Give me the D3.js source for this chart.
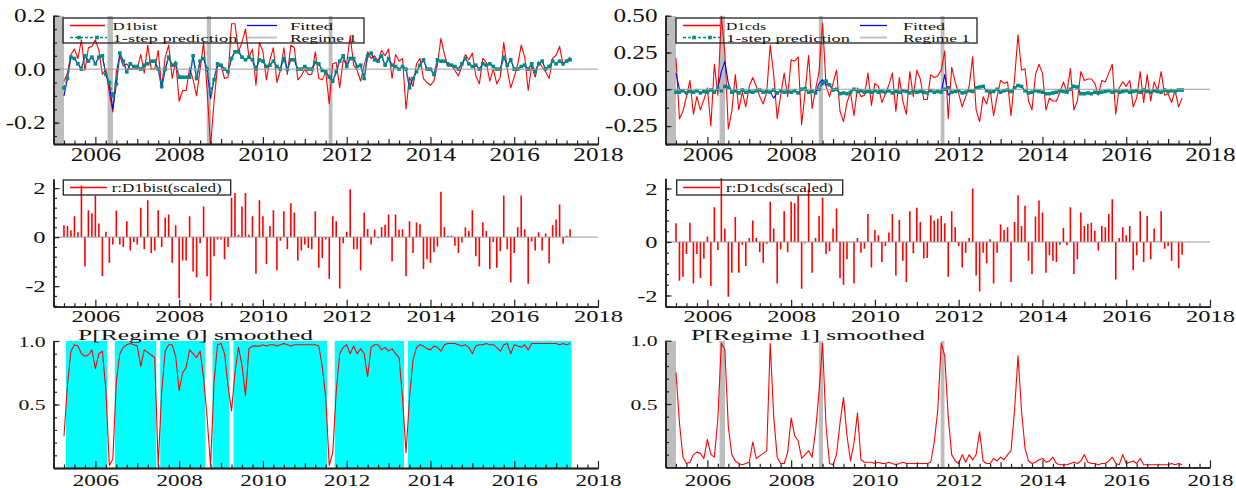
<!DOCTYPE html>
<html><head><meta charset="utf-8">
<script src="https://cdn.jsdelivr.net/npm/d3@7"></script>
<style>html,body{margin:0;padding:0;background:#fff;} svg{display:block;}</style>
</head><body>
<svg id="c" width="1236" height="488"></svg>
<script>
// ---------------- DATA (monthly, April 2005 .. May 2017) ----------------
const startYear = 2005.25;
const xTickLabels = [2006, 2008, 2010, 2012, 2014, 2016, 2018];

const d1bist = [
 -0.045,-0.015,0.055,0.075,0.04,0.11,-0.005,0.08,0.085,0.11,0.07,-0.02,
 0.0,-0.09,-0.16,-0.01,0.05,0.012,0.02,0.0,0.0,0.0,0.055,-0.015,
 0.09,0.0,0.0,0.07,-0.07,0.045,0.09,-0.035,0.03,-0.12,-0.08,-0.08,
 0.005,-0.04,-0.1,0.0,0.1,-0.075,-0.29,-0.12,0.01,0.012,-0.035,-0.03,
 0.17,0.17,0.065,0.1,0.15,0.045,0.075,-0.06,0.1,0.065,-0.04,0.035,
 0.08,-0.05,-0.005,0.08,-0.02,0.09,0.08,-0.04,-0.025,0.0,-0.02,-0.02,
 0.065,-0.035,-0.04,-0.01,-0.13,0.02,0.025,-0.07,0.035,0.02,0.125,0.015,
 -0.005,-0.045,0.015,0.065,0.04,0.05,0.03,0.07,0.05,0.075,-0.035,0.055,
 0.03,0.04,-0.15,-0.03,-0.065,0.02,0.04,-0.035,-0.05,-0.06,-0.045,0.018,
 0.115,0.055,0.01,0.015,-0.005,-0.025,0.01,0.055,0.035,0.06,-0.025,-0.055,
 0.04,0.025,-0.045,0.0,-0.055,-0.03,0.1,0.0,-0.07,-0.03,0.018,0.09,
 0.045,-0.08,0.012,-0.03,0.028,0.008,-0.01,-0.035,0.04,0.052,0.085,0.015,
 0.032,0.045];

const fitted1 = [
 -0.1,-0.035,0.045,0.04,0.02,0.0,0.05,0.03,0.045,0.02,0.045,0.05,
 -0.02,-0.06,-0.15,-0.055,0.06,0.03,-0.01,0.02,0.01,0.01,0.0,0.015,
 0.02,0.03,0.03,0.0,-0.07,0.0,0.045,0.015,0.02,-0.03,-0.03,-0.03,
 -0.03,0.05,-0.035,0.03,0.04,0.0,-0.11,-0.04,0.02,0.015,0.0,-0.01,
 0.04,0.065,0.065,0.045,0.035,0.045,0.035,0.0,0.035,0.03,0.01,0.015,
 0.03,0.01,0.0,0.04,0.0,0.035,0.035,0.0,0.0,0.01,0.0,0.0,
 0.025,0.02,-0.005,-0.01,-0.03,-0.045,-0.01,0.03,0.05,0.01,0.04,0.04,
 0.01,0.015,-0.035,0.05,0.06,0.035,0.03,0.05,0.015,0.04,0.015,0.01,
 0.0,0.01,0.0,-0.065,-0.035,-0.01,0.015,0.035,0.0,0.0,-0.02,0.035,
 0.03,0.03,0.02,0.015,0.01,0.0,0.02,0.04,0.02,0.01,0.015,0.0,
 0.02,0.015,0.02,0.01,0.0,0.0,0.045,0.015,0.035,0.0,0.0,0.01,
 0.015,0.0,0.02,-0.01,0.02,0.03,0.0,0.01,0.03,0.02,0.03,0.02,
 0.03,0.035];

const pred1 = [
 -0.07,-0.035,0.045,0.04,0.02,0.0,0.05,0.03,0.045,0.02,0.045,0.05,
 -0.02,-0.05,-0.1,-0.055,0.06,0.03,-0.01,0.02,0.01,0.01,0.0,0.015,
 0.02,0.03,0.03,0.0,-0.065,0.0,0.045,0.015,0.02,-0.03,-0.03,-0.03,
 -0.03,0.05,-0.035,0.03,0.04,0.0,-0.09,-0.04,0.02,0.015,0.0,-0.01,
 0.04,0.065,0.065,0.045,0.035,0.045,0.035,0.0,0.035,0.03,0.01,0.015,
 0.03,0.01,0.0,0.04,0.0,0.035,0.035,0.0,0.0,0.01,0.0,0.0,
 0.025,0.02,-0.005,-0.01,-0.03,-0.045,-0.01,0.03,0.05,0.01,0.04,0.04,
 0.01,0.015,-0.035,0.05,0.06,0.035,0.03,0.05,0.015,0.04,0.015,0.01,
 0.0,0.01,0.0,-0.07,-0.035,-0.01,0.015,0.035,0.0,0.0,-0.02,0.035,
 0.03,0.03,0.02,0.015,0.01,0.0,0.02,0.04,0.02,0.01,0.015,0.0,
 0.02,0.015,0.02,0.01,0.0,0.0,0.045,0.015,0.035,0.0,0.0,0.01,
 0.015,0.0,0.02,-0.01,0.02,0.03,0.0,0.01,0.03,0.02,0.03,0.02,
 0.03,0.035];

const resid1 = [
 0.48,0.45,0.28,0.85,0.2,2.1,-1.2,1.1,0.97,1.7,0.55,-1.6,
 0.22,-1.05,-0.3,1.08,-0.3,-0.4,0.65,-0.55,-0.2,-0.3,1.2,-0.5,
 1.5,-0.65,-0.55,1.1,-0.4,0.8,0.92,-1.05,0.48,-2.5,-0.95,-0.95,
 0.85,-1.4,-1.65,-0.25,1.25,-1.6,-2.6,-0.78,-0.1,-0.1,-0.9,-0.4,
 1.6,1.8,0.1,1.25,1.8,0.1,0.85,-1.5,1.5,0.85,-1.1,0.45,
 1.1,-1.35,-0.15,1.05,-0.5,1.38,1.0,-0.95,-0.55,-0.3,-0.45,-0.5,
 1.05,-1.25,-0.85,-0.1,-1.7,0.85,0.65,-2.1,-0.25,0.22,1.95,-0.5,
 -0.5,-1.35,1.0,0.33,-0.3,0.3,-0.05,0.4,0.5,0.92,-1.0,0.92,
 0.3,0.32,-1.6,0.65,-0.65,0.6,0.52,-1.3,-0.9,-1.05,-0.62,-0.38,
 1.85,0.4,0.05,0.05,-0.35,-0.65,-0.22,0.4,0.25,1.1,-0.78,-1.2,
 0.6,0.25,-1.3,-0.2,-1.25,-0.58,1.7,-0.5,-1.85,-0.65,0.4,1.7,
 0.32,-1.9,-0.18,-0.55,0.2,-0.55,0.15,-1.07,0.48,0.72,1.33,-0.27,
 0.05,0.32];

const d1cds = [
 0.21,-0.2,-0.15,-0.05,0.06,-0.17,-0.05,-0.14,-0.07,0.01,-0.25,0.17,
 -0.04,0.5,0.25,-0.27,-0.15,0.1,-0.14,-0.02,-0.12,0.02,0.08,0.02,
 -0.05,-0.1,-0.02,0.3,0.1,-0.2,-0.04,0.11,-0.05,0.2,0.19,0.22,
 -0.24,-0.02,0.23,-0.13,0.0,0.12,0.45,0.02,-0.05,0.04,0.13,-0.15,
 -0.22,-0.09,-0.02,-0.18,0.01,-0.05,-0.04,0.11,-0.11,0.04,0.02,-0.09,
 -0.03,0.03,0.11,-0.15,0.08,-0.08,-0.17,0.12,-0.05,0.13,0.07,-0.07,
 -0.07,0.1,0.08,0.09,0.13,0.26,-0.2,0.15,0.05,-0.03,-0.12,-0.05,
 0.02,0.22,-0.14,-0.22,-0.05,-0.1,0.0,-0.18,-0.05,0.06,0.04,0.05,
 -0.18,0.07,0.37,0.13,0.14,-0.08,-0.14,0.1,0.17,0.11,-0.14,-0.06,
 -0.08,-0.08,-0.02,0.05,-0.02,0.14,-0.14,-0.08,0.12,0.06,0.07,0.07,
 0.04,-0.04,0.06,0.05,0.11,0.17,-0.17,0.01,0.05,0.02,0.06,-0.12,
 -0.06,0.12,-0.09,0.1,-0.08,0.05,-0.01,0.12,-0.04,-0.03,-0.09,-0.01,
 -0.12,-0.06];

const fitted2 = [
 0.11,0.0,-0.01,-0.025,-0.015,-0.02,-0.01,-0.025,-0.015,-0.02,-0.005,-0.02,
 0.005,0.12,0.19,0.04,-0.02,-0.01,-0.025,-0.005,-0.02,-0.015,-0.02,-0.01,
 -0.005,-0.02,-0.015,-0.02,-0.06,-0.025,-0.01,-0.02,-0.015,-0.02,-0.01,-0.025,
 0.0,0.005,-0.02,-0.015,-0.025,0.04,0.065,0.03,0.03,-0.005,0.0,-0.03,
 -0.025,-0.03,-0.02,0.0,-0.015,-0.01,-0.02,-0.015,-0.02,-0.01,-0.02,-0.015,
 -0.02,-0.01,-0.025,-0.015,-0.02,-0.01,-0.015,-0.025,-0.01,-0.02,-0.015,-0.02,
 -0.025,-0.01,-0.02,-0.015,-0.02,0.1,-0.04,-0.02,-0.015,-0.01,-0.025,-0.02,
 -0.01,-0.015,0.01,0.015,0.02,-0.01,-0.02,-0.015,0.0,-0.02,-0.01,-0.005,
 -0.015,0.01,0.03,0.02,-0.01,-0.025,-0.02,-0.01,-0.015,-0.02,-0.03,-0.03,
 -0.025,-0.02,-0.01,-0.015,-0.02,0.0,0.02,0.015,-0.03,-0.03,-0.025,-0.03,
 -0.02,-0.025,-0.02,-0.015,-0.01,-0.02,-0.01,-0.02,-0.015,-0.01,-0.02,-0.015,
 -0.01,-0.02,-0.005,-0.015,-0.02,-0.01,-0.015,-0.02,-0.005,-0.015,-0.01,-0.015,
 -0.005,-0.005];

const pred2 = [
 -0.02,-0.02,-0.01,-0.025,-0.015,-0.02,-0.01,-0.025,-0.015,-0.02,-0.005,-0.02,
 0.005,-0.01,0.02,0.015,-0.02,-0.01,-0.025,-0.005,-0.02,-0.015,-0.02,-0.01,
 -0.005,-0.02,-0.015,-0.02,-0.005,-0.025,-0.01,-0.02,-0.015,-0.02,-0.01,-0.025,
 0.0,0.005,-0.02,-0.015,-0.025,0.0,0.04,0.055,0.03,-0.005,0.0,-0.03,
 -0.025,-0.03,-0.02,0.0,-0.015,-0.01,-0.02,-0.015,-0.02,-0.01,-0.02,-0.015,
 -0.02,-0.01,-0.025,-0.015,-0.02,-0.01,-0.015,-0.025,-0.01,-0.02,-0.015,-0.02,
 -0.025,-0.01,-0.02,-0.015,-0.02,0.0,0.01,-0.02,-0.015,-0.01,-0.025,-0.02,
 -0.01,-0.015,0.01,0.015,0.02,-0.01,-0.02,-0.015,0.0,-0.02,-0.01,-0.005,
 -0.015,0.01,0.025,0.02,-0.01,-0.025,-0.02,-0.01,-0.015,-0.02,-0.03,-0.03,
 -0.025,-0.02,-0.01,-0.015,-0.02,0.0,0.02,0.015,-0.03,-0.03,-0.025,-0.03,
 -0.02,-0.025,-0.02,-0.015,-0.01,-0.02,-0.01,-0.02,-0.015,-0.01,-0.02,-0.015,
 -0.01,-0.02,-0.005,-0.015,-0.02,-0.01,-0.015,-0.02,-0.005,-0.015,-0.01,-0.015,
 -0.005,-0.005];

const resid2 = [
 0.7,-1.45,-1.3,-0.45,0.72,-1.55,-0.45,-1.35,-0.62,0.2,-1.65,1.3,
 -0.3,2.4,0.5,-2.05,-1.15,0.93,-1.15,-0.1,-0.9,0.15,0.8,0.15,
 -0.38,-0.78,-0.07,1.5,0.5,-1.55,-0.28,1.15,-0.38,1.5,1.45,1.75,
 -1.75,-0.05,1.95,-1.15,0.15,0.97,1.65,-0.45,-0.35,0.5,1.25,-1.35,
 -1.6,-0.65,-0.02,-1.55,0.15,-0.4,-0.25,1.05,-0.95,0.45,0.25,-0.75,
 -0.15,0.35,1.05,-1.25,0.82,-0.7,-1.5,1.15,-0.42,1.28,0.75,-0.62,
 -0.6,1.0,0.8,0.87,0.97,0.7,-1.3,1.15,0.55,-0.15,-0.95,-0.4,
 0.15,2.0,-1.25,-1.85,-0.4,-0.8,0.1,-1.55,-0.4,0.65,0.45,0.55,
 -1.5,0.75,1.75,0.6,1.35,-0.7,-1.2,0.95,1.55,1.1,-1.15,-0.5,
 -0.7,-0.75,-0.1,0.52,-0.12,1.3,-1.2,-0.65,1.1,0.6,0.68,0.72,
 0.42,-0.32,0.6,0.55,1.05,1.6,-1.4,0.15,0.55,0.25,0.6,-1.05,
 -0.5,1.15,-0.75,0.97,-0.65,0.5,0.02,1.15,-0.25,-0.15,-0.7,0.0,
 -0.98,-0.48];

const pRegime0 = [
 0.25,0.65,0.92,0.97,0.96,0.9,0.88,0.89,0.93,0.78,0.9,0.92,
 0.62,0.02,0.07,0.68,0.9,0.95,0.97,0.98,0.97,0.96,0.8,0.93,
 0.91,0.89,0.87,0.02,0.6,0.92,0.97,0.97,0.88,0.61,0.75,0.79,
 0.93,0.9,0.87,0.92,0.71,0.4,0.02,0.68,0.97,0.98,0.9,0.65,
 0.45,0.75,0.95,0.81,0.57,0.94,0.96,0.96,0.96,0.97,0.96,0.97,
 0.97,0.96,0.97,0.98,0.97,0.96,0.97,0.97,0.97,0.97,0.97,0.97,
 0.97,0.96,0.8,0.55,0.02,0.12,0.6,0.9,0.95,0.97,0.9,0.96,
 0.9,0.94,0.9,0.72,0.95,0.97,0.97,0.93,0.95,0.92,0.94,0.9,
 0.87,0.55,0.12,0.55,0.85,0.95,0.97,0.96,0.94,0.93,0.96,0.95,
 0.92,0.97,0.98,0.98,0.98,0.97,0.96,0.97,0.95,0.9,0.96,0.97,
 0.97,0.98,0.97,0.97,0.95,0.92,0.97,0.98,0.9,0.97,0.96,0.95,
 0.97,0.93,0.98,0.98,0.98,0.98,0.98,0.98,0.98,0.98,0.97,0.98,
 0.97,0.98];

const pRegime1 = [
 0.75,0.35,0.08,0.03,0.04,0.1,0.12,0.11,0.07,0.22,0.1,0.08,
 0.38,0.98,0.93,0.32,0.1,0.05,0.03,0.02,0.03,0.04,0.2,0.07,
 0.09,0.11,0.13,0.98,0.4,0.08,0.03,0.03,0.12,0.39,0.25,0.21,
 0.07,0.1,0.13,0.08,0.29,0.6,0.98,0.32,0.03,0.02,0.1,0.35,
 0.55,0.25,0.05,0.19,0.43,0.06,0.04,0.04,0.04,0.03,0.04,0.03,
 0.03,0.04,0.03,0.02,0.03,0.04,0.03,0.03,0.03,0.03,0.03,0.03,
 0.03,0.04,0.2,0.45,0.98,0.88,0.4,0.1,0.05,0.03,0.1,0.04,
 0.1,0.06,0.1,0.28,0.05,0.03,0.03,0.07,0.05,0.08,0.06,0.1,
 0.13,0.45,0.88,0.45,0.15,0.05,0.03,0.04,0.06,0.07,0.04,0.05,
 0.08,0.03,0.02,0.02,0.02,0.03,0.04,0.03,0.05,0.1,0.04,0.03,
 0.03,0.02,0.03,0.03,0.05,0.08,0.03,0.02,0.1,0.03,0.04,0.05,
 0.03,0.07,0.02,0.02,0.02,0.02,0.02,0.02,0.02,0.02,0.03,0.02,
 0.03,0.02];

// regime-1 bands (years) and regime-0 classified blocks (observation indices)
const regime1Bands = [[2005.0, 2005.25], [2006.29, 2006.42], [2008.66, 2008.76], [2011.57, 2011.66]];
const regime0Blocks = [[1, 12], [15, 26], [28, 40], [43, 47], [49, 75], [78, 97], [99, 145]];

// ---------------- DRAWING ----------------
const N = d1bist.length;
const dates = d3.range(N).map(i => startYear + i / 12);
const FONT = '"Liberation Serif","Times New Roman",serif';
const SX = 1.4;
const svg = d3.select('#c');
const RED = '#ff0000', BLUE = '#0000ff', TEAL = '#008b80', GRAYBAR = '#bdbdbd', CYAN = '#00ffff', AXIS = '#222';

function makePanel(o) {
  const x = d3.scaleLinear().domain([2005, 2018]).range([o.x0, o.x1]);
  const y = d3.scaleLinear().domain(o.yDom).range([o.yBot, o.yTop]);
  const cid = 'clip' + o.id;
  svg.append('clipPath').attr('id', cid).append('rect')
    .attr('x', o.x0).attr('y', o.yTop).attr('width', o.x1 - o.x0).attr('height', o.yBot - o.yTop);
  const g = svg.append('g');
  const plot = g.append('g').attr('clip-path', `url(#${cid})`);
  return { o, x, y, g, plot };
}

function styleAxis(sel) {
  sel.selectAll('path.domain').attr('stroke', AXIS).attr('stroke-width', 1.6);
  sel.selectAll('line').attr('stroke', AXIS).attr('stroke-width', 1.2);
}

function drawAxes(p) {
  const { o, x, y, g } = p;
  const quarters = d3.range(2005, 2018.001, 0.25).filter(v => Math.abs(v - Math.round(v)) > 0.01);
  const years = d3.range(2005, 2019);
  const gq = g.append('g').attr('transform', `translate(0,${o.yBot})`)
    .call(d3.axisBottom(x).tickValues(quarters).tickSize(-3.5).tickSizeOuter(0).tickFormat(''));
  styleAxis(gq);
  const gy = g.append('g').attr('transform', `translate(0,${o.yBot})`)
    .call(d3.axisBottom(x).tickValues(years.filter(v => !xTickLabels.includes(v))).tickSize(-5).tickSizeOuter(0).tickFormat(''));
  styleAxis(gy);
  const gl = g.append('g').attr('transform', `translate(0,${o.yBot})`)
    .call(d3.axisBottom(x).tickValues(xTickLabels).tickSize(-7).tickSizeOuter(0).tickFormat(d3.format('d')));
  styleAxis(gl);
  gl.selectAll('text').attr('y', o.xLab - o.yBot).attr('dy', 0)
    .attr('font-family', FONT).attr('font-size', o.fsX).attr('fill', '#111')
    .attr('transform', `scale(${SX},1)`);

  const gym = g.append('g').attr('transform', `translate(${o.x0},0)`)
    .call(d3.axisLeft(y).tickValues(o.yMinor).tickSize(-3.5).tickSizeOuter(0).tickFormat(''));
  styleAxis(gym);
  const gyl = g.append('g').attr('transform', `translate(${o.x0},0)`)
    .call(d3.axisLeft(y).tickValues(o.yMajor).tickSize(-6).tickSizeOuter(0).tickFormat(o.fmt));
  styleAxis(gyl);
  gyl.selectAll('text').attr('x', -8 / SX).attr('dy', 0).attr('y', 0.33 * o.fsY)
    .attr('font-family', FONT).attr('font-size', o.fsY).attr('fill', '#111')
    .attr('text-anchor', 'end').attr('transform', `scale(${SX},1)`);
}

function bands(p, list, color) {
  p.plot.selectAll(null).data(list).enter().append('rect')
    .attr('x', d => p.x(d[0])).attr('width', d => p.x(d[1]) - p.x(d[0]))
    .attr('y', p.o.yTop).attr('height', p.o.yBot - p.o.yTop).attr('fill', color);
}
function zeroLine(p) {
  p.g.append('line').attr('x1', p.o.x0).attr('x2', p.o.x1).attr('y1', p.y(0)).attr('y2', p.y(0))
    .attr('stroke', '#9a9a9a').attr('stroke-width', 1);
}
function series(p, vals, color, width, dash) {
  const line = d3.line().x((d, i) => p.x(dates[i])).y(d => p.y(d));
  p.plot.append('path').datum(vals).attr('d', line).attr('fill', 'none')
    .attr('stroke', color).attr('stroke-width', width).attr('stroke-dasharray', dash || null)
    .attr('stroke-linejoin', 'round');
}
function markers(p, vals, color) {
  p.plot.selectAll(null).data(vals).enter().append('rect')
    .attr('x', (d, i) => p.x(dates[i]) - 1.8).attr('y', d => p.y(d) - 1.8)
    .attr('width', 3.6).attr('height', 3.6).attr('fill', color);
}
function spikes(p, vals) {
  p.plot.selectAll(null).data(vals).enter().append('line')
    .attr('x1', (d, i) => p.x(dates[i])).attr('x2', (d, i) => p.x(dates[i]))
    .attr('y1', p.y(0)).attr('y2', d => p.y(d))
    .attr('stroke', RED).attr('stroke-width', 1.6);
}
function legBox(x0, y0, x1, y1) {
  svg.append('rect').attr('x', x0).attr('y', y0).attr('width', x1 - x0).attr('height', y1 - y0)
    .attr('fill', 'none').attr('stroke', AXIS).attr('stroke-width', 1.3);
}
function legLine(x0, x1, y, color, w, dash) {
  svg.append('line').attr('x1', x0).attr('x2', x1).attr('y1', y).attr('y2', y)
    .attr('stroke', color).attr('stroke-width', w).attr('stroke-dasharray', dash || null);
}
function legMark(x, y) {
  svg.append('rect').attr('x', x - 1.8).attr('y', y - 1.8).attr('width', 3.6).attr('height', 3.6).attr('fill', TEAL);
}
function txt(x, y, s, len, fs) {
  svg.append('text').attr('x', x).attr('y', y).attr('font-family', FONT).attr('font-size', fs)
    .attr('fill', '#111').attr('textLength', len).attr('lengthAdjust', 'spacingAndGlyphs').text(s);
}

const f1 = v => v.toFixed(1), f2 = v => v.toFixed(2), f0 = v => String(v);

// ---- top-left
const TL = makePanel({ id: 'tl', x0: 53.5, x1: 598, yTop: 15.7, yBot: 144, yDom: [-0.28, 0.2],
  yMajor: [-0.2, 0, 0.2], yMinor: d3.range(-0.25, 0.2001, 0.05), fmt: f1, xLab: 161, fsX: 18, fsY: 18 });
bands(TL, regime1Bands, GRAYBAR);
zeroLine(TL);
series(TL, d1bist, RED, 1.1);
series(TL, fitted1, BLUE, 1.1);
series(TL, pred1, TEAL, 1.6, '3,2');
markers(TL, pred1, TEAL);
drawAxes(TL);

// ---- top-right
const TR = makePanel({ id: 'tr', x0: 665.5, x1: 1210, yTop: 15.7, yBot: 144, yDom: [-0.372, 0.5],
  yMajor: [-0.25, 0, 0.25, 0.5], yMinor: d3.range(-0.375, 0.5001, 0.125), fmt: f2, xLab: 161, fsX: 18, fsY: 18 });
bands(TR, regime1Bands, GRAYBAR);
zeroLine(TR);
series(TR, d1cds, RED, 1.1);
series(TR, fitted2, BLUE, 1.1);
series(TR, pred2, TEAL, 1.6, '3,2');
markers(TR, pred2, TEAL);
drawAxes(TR);

// ---- middle-left
const ML = makePanel({ id: 'ml', x0: 53.5, x1: 598, yTop: 179, yBot: 306.7, yDom: [-2.84, 2.37],
  yMajor: [-2, 0, 2], yMinor: d3.range(-2.8, 2.4, 0.4), fmt: f0, xLab: 322.5, fsX: 17.5, fsY: 17.5 });
zeroLine(ML);
spikes(ML, resid1);
drawAxes(ML);

// ---- middle-right
const MR = makePanel({ id: 'mr', x0: 665.5, x1: 1210, yTop: 178.3, yBot: 306.7, yDom: [-2.42, 2.38],
  yMajor: [-2, 0, 2], yMinor: d3.range(-2.4, 2.4, 0.4), fmt: f0, xLab: 322.5, fsX: 17.5, fsY: 17.5 });
zeroLine(MR);
spikes(MR, resid2);
drawAxes(MR);

// ---- bottom-left
const BL = makePanel({ id: 'bl', x0: 53.5, x1: 598, yTop: 341, yBot: 468, yDom: [0, 1],
  yMajor: [0.5, 1.0], yMinor: d3.range(0.1, 1.0, 0.1), fmt: f1, xLab: 486, fsX: 16.5, fsY: 15.5 });
BL.plot.selectAll(null).data(regime0Blocks).enter().append('rect')
  .attr('x', d => BL.x(dates[d[0]]) - 1.5)
  .attr('width', d => BL.x(dates[d[1]]) - BL.x(dates[d[0]]) + 3)
  .attr('y', BL.o.yTop).attr('height', BL.o.yBot - BL.o.yTop).attr('fill', CYAN);
series(BL, pRegime0, RED, 1.1);
drawAxes(BL);

// ---- bottom-right
const BR = makePanel({ id: 'br', x0: 665.5, x1: 1210, yTop: 340.7, yBot: 467.3, yDom: [0, 1],
  yMajor: [0.5, 1.0], yMinor: d3.range(0.1, 1.0, 0.1), fmt: f1, xLab: 486, fsX: 16.5, fsY: 15.5 });
bands(BR, regime1Bands, GRAYBAR);
series(BR, pRegime1, RED, 1.1);
drawAxes(BR);

// ---- legends
const LFS = 10.5;
legBox(63, 18, 364, 43);
legLine(70, 105, 25.5, RED, 1.3);
txt(112.5, 29.5, 'D1bist', 45, LFS);
legLine(247, 277, 25.5, BLUE, 1.3);
txt(290, 29.5, 'Fitted', 43, LFS);
legLine(70, 107, 37.5, TEAL, 1.6, '3,2');
legMark(79, 37.5); legMark(97, 37.5);
txt(112.5, 41.5, '1-step prediction', 125, LFS);
legLine(247, 277, 37.5, '#c0c0c0', 2);
txt(290, 41.5, 'Regime 1', 67, LFS);

legBox(676, 18, 977, 43);
legLine(683, 720, 25.5, RED, 1.3);
txt(726, 29.5, 'D1cds', 40, LFS);
legLine(860, 887, 25.5, BLUE, 1.3);
txt(903, 29.5, 'Fitted', 42, LFS);
legLine(683, 720, 37.5, TEAL, 1.6, '3,2');
legMark(694, 37.5); legMark(710, 37.5);
txt(726, 41.5, '1-step prediction', 124, LFS);
legLine(860, 887, 37.5, '#c0c0c0', 2);
txt(903, 41.5, 'Regime 1', 67, LFS);

legBox(63.3, 180, 230.7, 195);
legLine(70, 107, 187.5, RED, 1.5);
txt(111.7, 192, 'r:D1bist(scaled)', 110, 12);

legBox(676.7, 180, 842.7, 195);
legLine(683, 720, 187.5, RED, 1.5);
txt(726, 192, 'r:D1cds(scaled)', 107, 12);

txt(78, 340, 'P[Regime 0] smoothed', 235, 15);
txt(691, 340, 'P[Regime 1] smoothed', 234, 15);
</script>
</body></html>
